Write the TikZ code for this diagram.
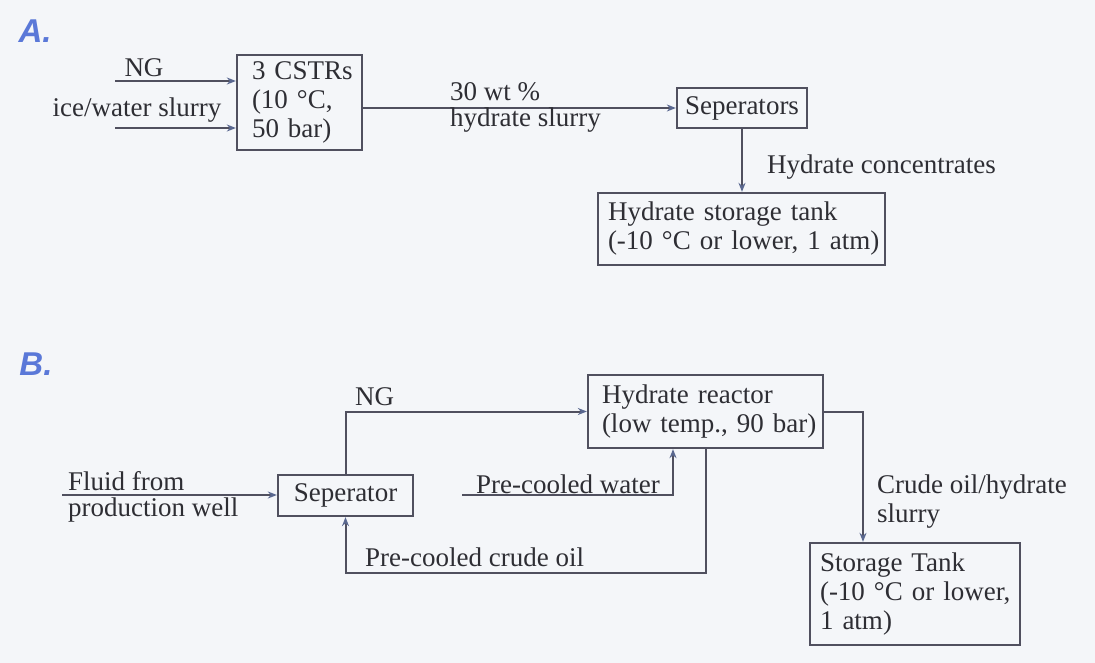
\documentclass[tikz,border=0pt]{standalone}
\usepackage{fontspec}
\setmainfont{Liberation Serif}
\setsansfont{Liberation Sans}
\usetikzlibrary{arrows.meta}
\definecolor{bg}{HTML}{F4F6F9}
\definecolor{ln}{HTML}{50505F}
\definecolor{tx}{HTML}{2E2E34}
\definecolor{lab}{HTML}{5A78D8}
\definecolor{tip}{HTML}{5A6890}
\hfuzz=1000pt
\tikzset{
  box/.style={draw=ln, line width=2.3pt, text=tx, font=\fontsize{27}{29}\selectfont, align=left, inner ysep=0pt},
  cbox/.style={draw=ln, line width=2.3pt, text=tx, font=\fontsize{27}{29}\selectfont, align=center, inner sep=0pt},
  flow/.style={draw=ln, line width=2pt, -{Stealth[length=9pt,width=7pt,color=tip]}},
  lbl/.style={text=tx, font=\fontsize{27}{29}\selectfont, inner sep=0pt, align=left},
  part/.style={text=lab, font=\sffamily\bfseries\itshape\fontsize{33}{36}\selectfont, inner sep=0pt}
}
\begin{document}
\begin{tikzpicture}[x=1pt,y=-1pt]
\fill[bg] (0,0) rectangle (1095,663);
\useasboundingbox (0,0) rectangle (1095,663);
% ---------- A ----------
\node[part] (pa) at (35,31) {A.};
\node[box, minimum width=125pt, minimum height=95pt, inner xsep=15pt, text width=95pt] (cstr) at (299.5,102.5) {\mbox{3 CSTRs}\\\mbox{(10 °C,}\\\mbox{50 bar)}};
\node[cbox, minimum width=130pt, minimum height=40pt] (sepA) at (742,108) {Seperators};
\node[box, minimum width=287pt, minimum height=72pt, inner xsep=10pt, text width=267pt] (tankA) at (741.5,229) {\mbox{Hydrate storage tank}\\\mbox{(-10 °C or lower, 1 atm)}};
\coordinate (ngA) at (115,81);
\coordinate (iceA) at (115,128);
\draw[flow] (ngA) -- (ngA -| cstr.west);
\draw[flow] (iceA) -- (iceA -| cstr.west);
\node[lbl] (ngAl) at (144,68) {NG};
\node[lbl] (iceAl) at (137,110) {ice/water slurry};
\draw[flow] (cstr.east |- sepA.west) -- (sepA.west);
\node[lbl, anchor=west] (wt) at (450,92) {30 wt \%};
\node[lbl, anchor=west] (hs) at (450,120) {hydrate slurry};
\draw[flow] (sepA.south) -- (sepA.south |- tankA.north);
\node[lbl, anchor=west] (hc) at (767,167) {Hydrate concentrates};
% ---------- B ----------
\node[part] (pb) at (36,364) {B.};
\node[cbox, minimum width=135pt, minimum height=41pt] (sepB) at (345.5,495.5) {Seperator};
\node[box, minimum width=235pt, minimum height=73pt, inner xsep=14pt, text width=207pt] (reactor) at (705.5,411.5) {\mbox{Hydrate reactor}\\\mbox{(low temp., 90 bar)}};
\node[box, minimum width=210pt, minimum height=102pt, inner xsep=10pt, text width=190pt] (tankB) at (915,594) {\mbox{Storage Tank}\\\mbox{(-10 °C or lower,}\\\mbox{1 atm)}};
\coordinate (fl) at (62,495);
\draw[flow] (fl) -- (fl -| sepB.west);
\node[lbl, anchor=west] (fl1) at (68,481) {Fluid from};
\node[lbl, anchor=west] (fl2) at (68,510) {production well};
\draw[flow] (sepB.north) |- (reactor.west);
\node[lbl, anchor=west] (ngB) at (355,397) {NG};
\coordinate (pw) at (462,495);
\draw[flow] (pw) -| ([xshift=-32.5pt]reactor.south);
\node[lbl, anchor=west] (pwl) at (476,484) {Pre-cooled water};
\draw[flow] (reactor.south) -- ++(0,124) -| (sepB.south);
\node[lbl, anchor=west] (pcl) at (365,557) {Pre-cooled crude oil};
\draw[flow] (reactor.east) -| ([xshift=-52pt]tankB.north);
\node[lbl, anchor=west] (coh) at (877,502) {Crude oil/hydrate\\slurry};
\end{tikzpicture}
\end{document}
